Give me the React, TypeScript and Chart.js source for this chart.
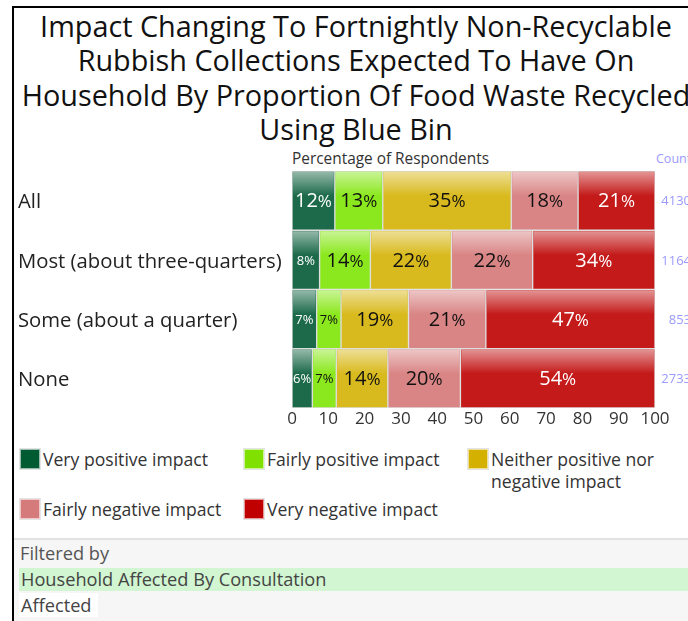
import React, { useEffect, useRef } from "react";
import { Chart, registerables } from "chart.js";

Chart.register(...registerables);

const FONT = "'Open Sans', 'Noto Sans', sans-serif";

const titleLines = [
  "Impact Changing To Fortnightly Non-Recyclable",
  "Rubbish Collections Expected To Have On",
  "Household By Proportion Of Food Waste Recycled",
  "Using Blue Bin",
];
const categories = ["All", "Most (about three-quarters)", "Some (about a quarter)", "None"];
const counts = ["4130", "1164", "853", "2733"];
const seriesNames = [
  "Very positive impact",
  "Fairly positive impact",
  "Neither positive nor negative impact",
  "Fairly negative impact",
  "Very negative impact",
];
const veryPositive = [11.8, 7.6, 6.8, 5.6];
const fairlyPositive = [13.2, 14.0, 6.7, 6.6];
const neither = [35.4, 22.3, 18.6, 14.2];
const fairlyNegative = [18.4, 22.4, 21.3, 20.0];
const veryNegative = [21.2, 33.7, 46.6, 53.6];
const xTicks = [0, 10, 20, 30, 40, 50, 60, 70, 80, 90, 100];

const barColors = ["#1c6a4a", "#8be81e", "#d9ba1e", "#d98585", "#c41a1a"];
const legendColors = ["#005a32", "#80e000", "#d4b000", "#d57b7b", "#c00000"];
const labelColors = ["#ffffff", "#111111", "#111111", "#111111", "#ffffff"];

const glossPlugin = {
  id: "glossLabels",
  afterDatasetsDraw(chart: any) {
    const ctx = chart.ctx;
    chart.data.datasets.forEach((ds: any, di: number) => {
      const meta = chart.getDatasetMeta(di);
      meta.data.forEach((el: any, i: number) => {
        const p = el.getProps(["x", "y", "base", "height"], true);
        const left = Math.min(p.x, p.base);
        const right = Math.max(p.x, p.base);
        const top = p.y - p.height / 2;
        const h = p.height;
        ctx.save();
        const g = ctx.createLinearGradient(0, top, 0, top + h);
        g.addColorStop(0, "rgba(255,255,255,0.55)");
        g.addColorStop(0.42, "rgba(255,255,255,0.0)");
        g.addColorStop(1, "rgba(255,255,255,0.0)");
        ctx.fillStyle = g;
        ctx.fillRect(left + 1, top + 1, right - left - 2, h - 2);
        ctx.restore();

        const v = ds.data[i];
        const num = String(Math.round(v));
        const small = v < 10;
        const numSize = small ? 13 : 20;
        const pctSize = small ? 13 : 17;
        ctx.save();
        ctx.fillStyle = labelColors[di];
        ctx.textBaseline = "middle";
        ctx.textAlign = "left";
        ctx.font = `${numSize}px ${FONT}`;
        const wn = ctx.measureText(num).width;
        ctx.font = `${pctSize}px ${FONT}`;
        const wp = ctx.measureText("%").width;
        const cx = (left + right) / 2;
        const sx = cx - (wn + wp) / 2;
        const cy = p.y + 1;
        ctx.font = `${numSize}px ${FONT}`;
        ctx.fillText(num, sx, cy);
        ctx.font = `${pctSize}px ${FONT}`;
        ctx.fillText("%", sx + wn, cy + (small ? 0 : 1));
        ctx.restore();
      });
    });
    // counts
    const yScale = chart.scales.y;
    ctx.save();
    ctx.fillStyle = "#9a9aff";
    ctx.font = `13px ${FONT}`;
    ctx.textAlign = "right";
    ctx.textBaseline = "middle";
    counts.forEach((c, i) => {
      ctx.fillText(c, 691, yScale.getPixelForValue(i) + 1);
    });
    ctx.restore();
  },
};

function BarChart() {
  const ref = useRef<HTMLCanvasElement | null>(null);
  useEffect(() => {
    if (!ref.current) return;
    const series = [veryPositive, fairlyPositive, neither, fairlyNegative, veryNegative];
    const chart = new Chart(ref.current, {
      type: "bar",
      data: {
        labels: categories,
        datasets: series.map((d, i) => ({
          label: seriesNames[i],
          data: d,
          backgroundColor: barColors[i],
          borderColor: "#dedede",
          borderWidth: 1,
          borderSkipped: false,
          barPercentage: 1,
          categoryPercentage: 1,
        })),
      },
      options: {
        indexAxis: "y",
        responsive: false,
        animation: false,
        devicePixelRatio: 1,
        layout: { padding: { left: 18, right: 65, top: 26, bottom: 0 } },
        plugins: {
          legend: { display: false },
          tooltip: { enabled: false },
          title: { display: false },
        },
        scales: {
          x: {
            stacked: true,
            min: 0,
            max: 100,
            afterBuildTicks: (s: any) => {
              s.ticks = xTicks.map((v) => ({ value: v }));
            },
            ticks: {
              font: { family: FONT, size: 17 },
              color: "#333",
              padding: 1,
              maxRotation: 0,
              autoSkip: false,
            },
            grid: { display: false, drawTicks: false },
            border: { display: false },
            afterFit: (s: any) => {
              s.height = 27;
            },
          },
          y: {
            stacked: true,
            ticks: {
              crossAlign: "far",
              font: { family: FONT, size: 20.3 },
              color: "#222",
              autoSkip: false,
              labelOffset: 2,
            },
            grid: { display: false, drawTicks: false },
            border: { display: false },
            afterFit: (s: any) => {
              s.width = 274;
            },
          },
        },
      } as any,
      plugins: [glossPlugin],
    });
    return () => chart.destroy();
  }, []);
  return <canvas ref={ref} width={720} height={290} style={{ display: "block", position: "absolute", left: 0, top: 145 }} />;
}

const legendItems = [
  { i: 0, x: 20, y: 449 },
  { i: 1, x: 244, y: 449 },
  { i: 2, x: 468, y: 449, text: ["Neither positive nor", "negative impact"] },
  { i: 3, x: 20, y: 499 },
  { i: 4, x: 244, y: 499 },
];

export default function App() {
  return (
    <div
      style={{
        position: "fixed",
        left: 0,
        top: 0,
        width: 688,
        height: 621,
        overflow: "hidden",
        background: "#fff",
        fontFamily: FONT,
      }}
    >
      {/* frame */}
      <div style={{ position: "absolute", left: 12, top: 6, width: 700, height: 2, background: "#000" }} />
      <div style={{ position: "absolute", left: 12, top: 6, width: 2, height: 620, background: "#000" }} />

      {/* title */}
      <div
        style={{
          position: "absolute",
          left: 14,
          top: 9,
          width: 684,
          textAlign: "center",
          fontSize: 28.8,
          lineHeight: "34.3px",
          color: "#111",
          whiteSpace: "nowrap",
        }}
      >
        {titleLines.map((t, i) => (
          <div key={i}>{t}</div>
        ))}
      </div>

      <div style={{ position: "absolute", left: 292, top: 150, fontSize: 15.4, lineHeight: "18px", color: "#333", whiteSpace: "nowrap" }}>
        Percentage of Respondents
      </div>
      <div style={{ position: "absolute", left: 656, top: 151, fontSize: 12.5, lineHeight: "16px", color: "#9a9aff", whiteSpace: "nowrap" }}>
        Count
      </div>

      <BarChart />

      {/* legend */}
      {legendItems.map((it) => (
        <div key={it.i}>
          <div
            style={{
              position: "absolute",
              left: it.x,
              top: it.y,
              width: 18,
              height: 18,
              background: legendColors[it.i],
              border: "1px solid rgba(255,255,255,0.6)",
              boxShadow: "0 0 0 1px #e4e4e4",
            }}
          />
          <div
            style={{
              position: "absolute",
              left: it.x + 23,
              top: it.y - 1,
              fontSize: 17.6,
              lineHeight: "22px",
              color: "#333",
              whiteSpace: "nowrap",
            }}
          >
            {(it.text || [seriesNames[it.i]]).map((t, k) => (
              <div key={k}>{t}</div>
            ))}
          </div>
        </div>
      ))}

      {/* filter section */}
      <div style={{ position: "absolute", left: 14, top: 538, width: 690, height: 2, background: "#e2e2e2" }} />
      <div style={{ position: "absolute", left: 14, top: 540, width: 690, height: 90, background: "#f6f6f6" }} />
      <div style={{ position: "absolute", left: 20, top: 542, fontSize: 18.2, lineHeight: "22px", color: "#555", whiteSpace: "nowrap" }}>
        Filtered by
      </div>
      <div
        style={{
          position: "absolute",
          left: 19,
          top: 568,
          width: 690,
          height: 23,
          background: "#d1f6d1",
          fontSize: 18.2,
          lineHeight: "23px",
          color: "#444",
          paddingLeft: 2,
          whiteSpace: "nowrap",
        }}
      >
        Household Affected By Consultation
      </div>
      <div
        style={{
          position: "absolute",
          left: 19,
          top: 593,
          height: 24,
          background: "#fff",
          fontSize: 18.2,
          lineHeight: "24px",
          color: "#444",
          paddingLeft: 2,
          paddingRight: 6,
          whiteSpace: "nowrap",
        }}
      >
        Affected
      </div>
    </div>
  );
}
